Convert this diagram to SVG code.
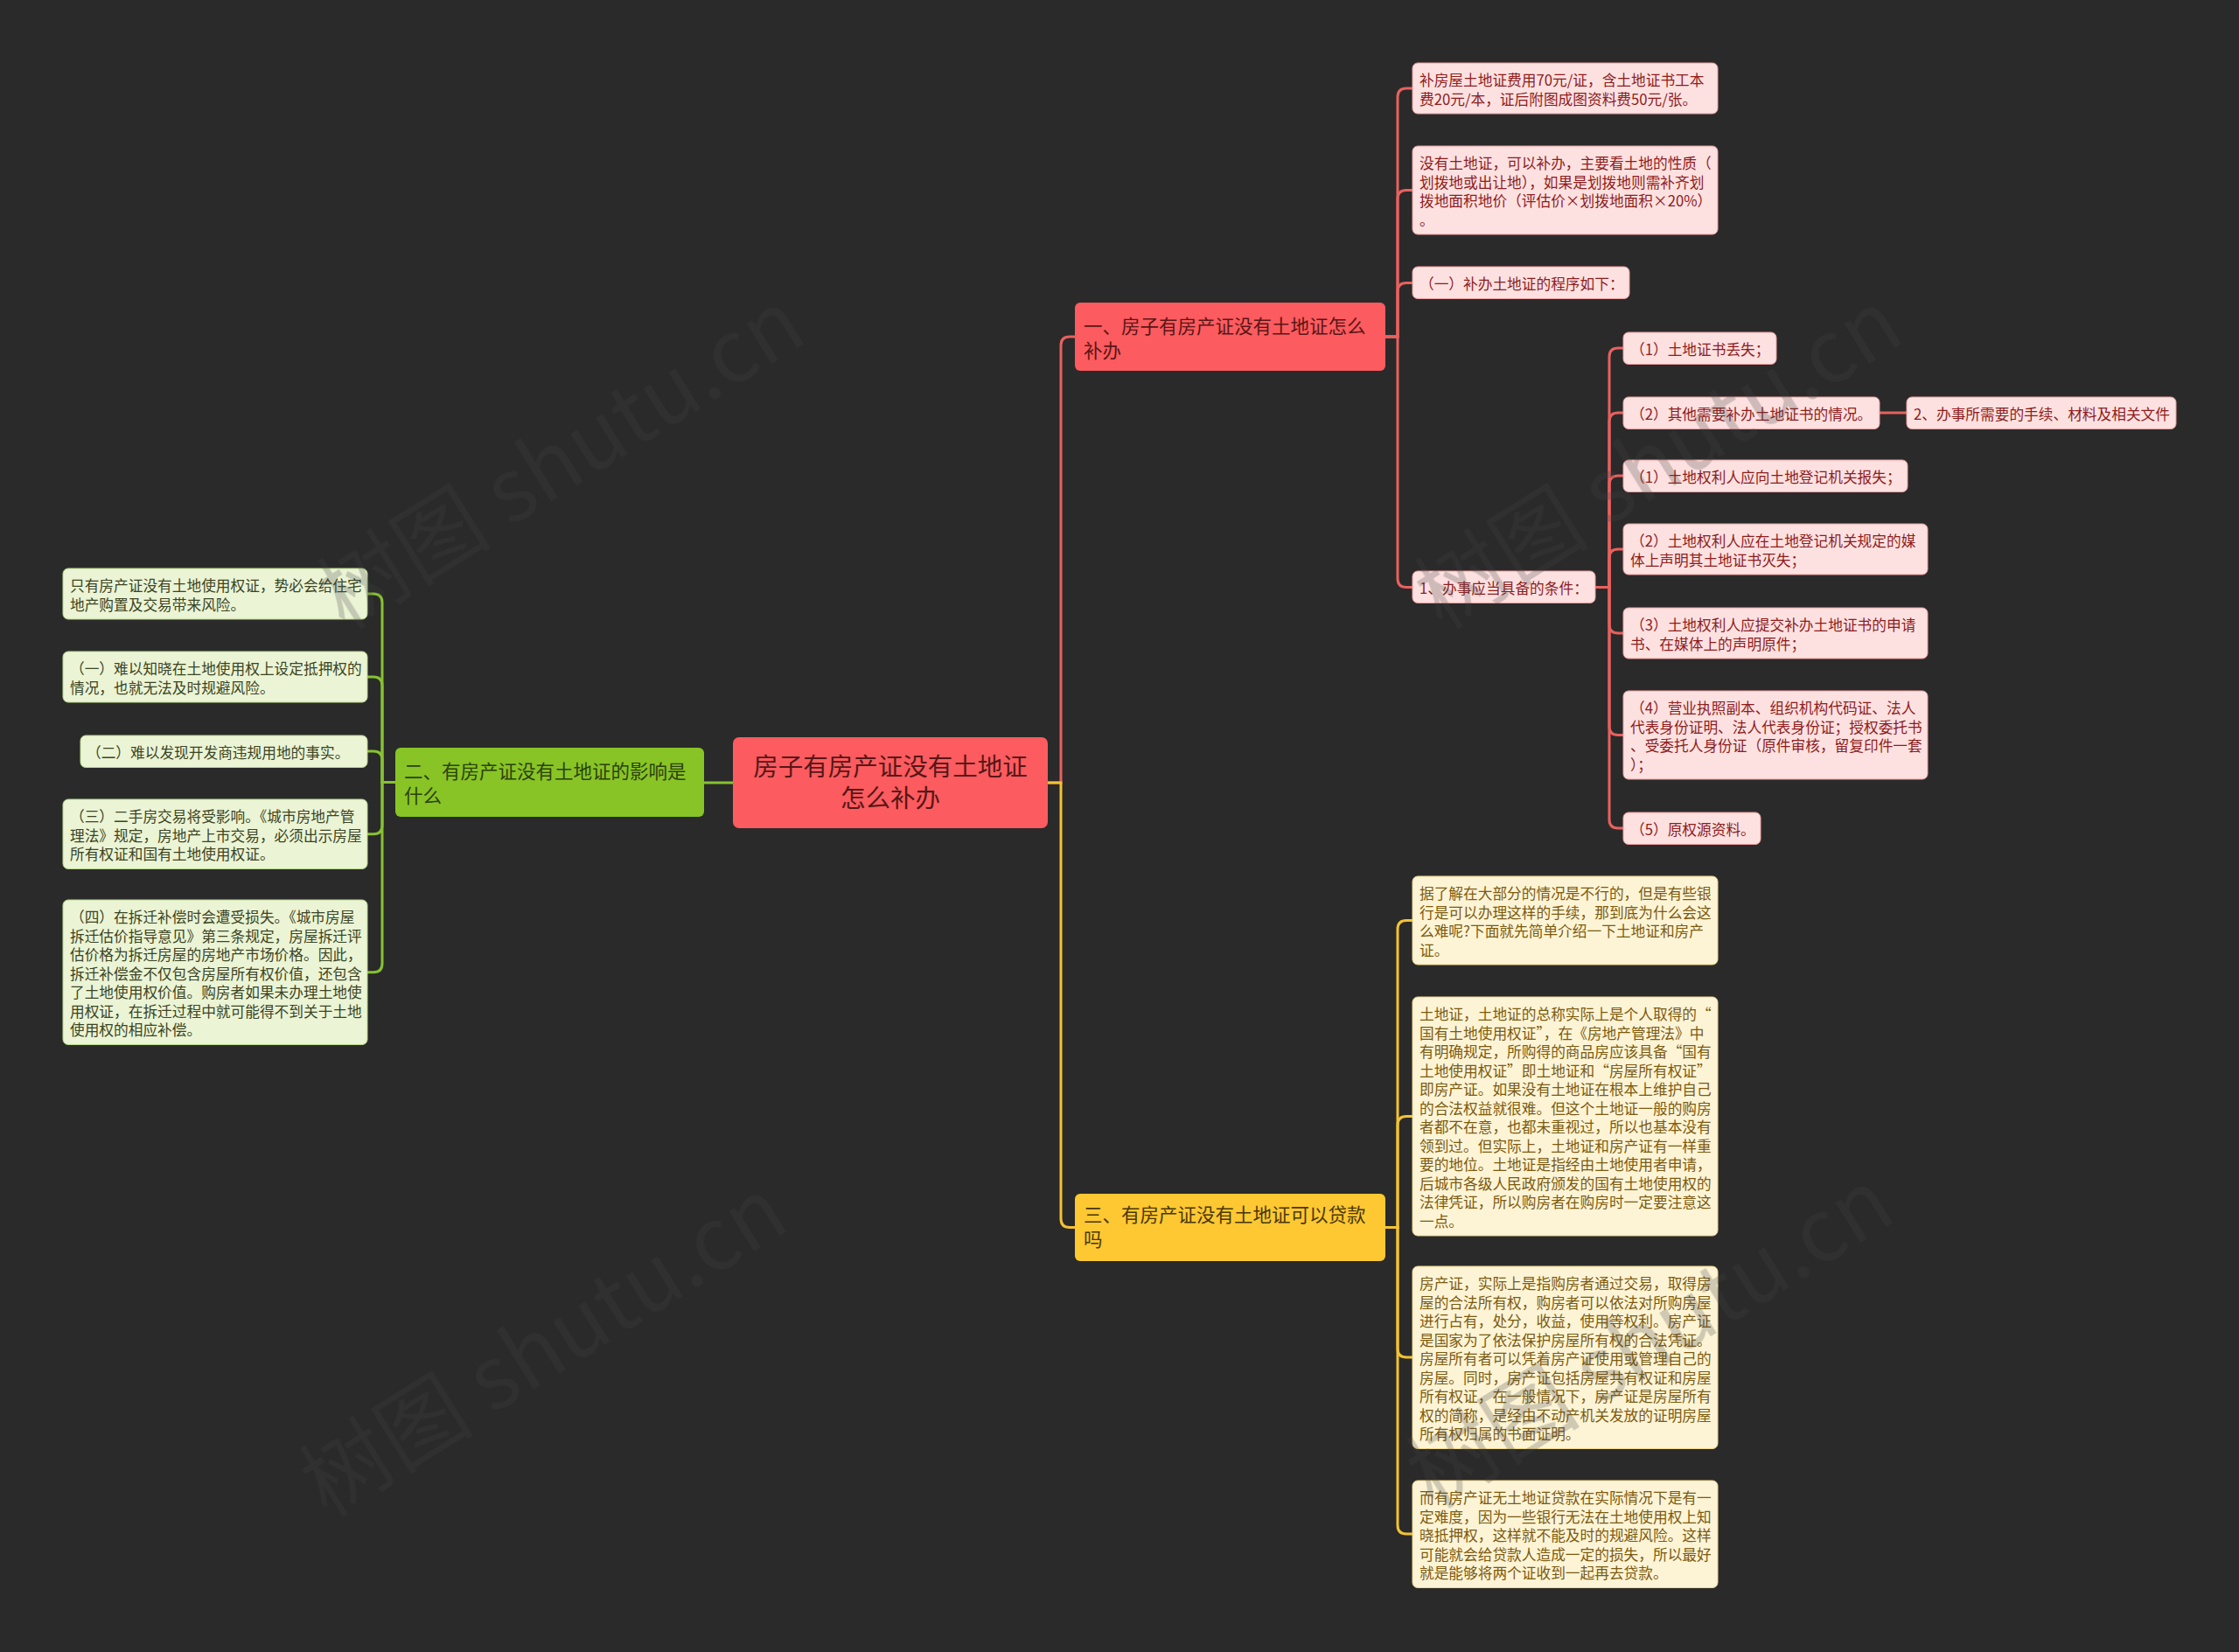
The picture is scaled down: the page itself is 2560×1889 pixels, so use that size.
<svg xmlns="http://www.w3.org/2000/svg" width="2560" height="1889" viewBox="0 0 2560 1889">
<style>
text{font-family:"Noto Sans CJK SC","Noto Sans",sans-serif;}
.conn path{fill:none;stroke-width:3;stroke-linecap:round;}
.cr{stroke:#e8615f;}
.cg{stroke:#86c232;}
.cy{stroke:#f2c234;}
.root rect{fill:#fc5b5f;}
.root text{font-size:28.5px;fill:#561717;text-anchor:middle;}
.br text{font-size:21.5px;}
.bred rect{fill:#fc5b5f;}
.bred text{fill:#5a1616;}
.bgrn rect{fill:#88c425;}
.bgrn text{fill:#2b420c;}
.bylw rect{fill:#fdc832;}
.bylw text{fill:#4a3706;}
.lf text{font-size:16.7px;}
.lr rect{fill:#fde1e1;stroke:#ef9d9d;stroke-width:1;}
.lr text{fill:#8e1c1c;}
.lg rect{fill:#ebf4d5;stroke:#b9d88a;stroke-width:1;}
.lg text{fill:#3b4423;}
.ly rect{fill:#fdf4d6;stroke:#efd58a;stroke-width:1;}
.ly text{fill:#7c5a0e;}
.wm text{font-size:100px;fill:#444444;text-anchor:middle;font-family:"Noto Sans CJK SC","Liberation Sans",sans-serif;}
</style>
<rect width="2560" height="1889" fill="#2a2a2a"/>

<g id="connectors" class="conn">
  <path class="cr" d="M1198 895 H1213 V395 Q1213 385 1223 385 H1229"/>
  <path class="cy" d="M1198 895 H1213 V1393.5 Q1213 1403.5 1223 1403.5 H1229"/>
  <path class="cg" d="M805 895 H838"/>
  <path class="cr" d="M1584 385 H1598 V111 Q1598 101 1608 101 H1615"/>
  <path class="cr" d="M1584 385 H1598 V227.5 Q1598 217.5 1608 217.5 H1615"/>
  <path class="cr" d="M1584 385 H1598 V333.5 Q1598 323.5 1608 323.5 H1615"/>
  <path class="cr" d="M1584 385 H1598 V661.5 Q1598 671.5 1608 671.5 H1615"/>
  <path class="cr" d="M1824 671.5 H1840 V408 Q1840 398 1850 398 H1856"/>
  <path class="cr" d="M1824 671.5 H1840 V482 Q1840 472 1850 472 H1856"/>
  <path class="cr" d="M1824 671.5 H1840 V554 Q1840 544 1850 544 H1856"/>
  <path class="cr" d="M1824 671.5 H1840 V638 Q1840 628 1850 628 H1856"/>
  <path class="cr" d="M1824 671.5 H1840 V714 Q1840 724 1850 724 H1856"/>
  <path class="cr" d="M1824 671.5 H1840 V830.5 Q1840 840.5 1850 840.5 H1856"/>
  <path class="cr" d="M1824 671.5 H1840 V937 Q1840 947 1850 947 H1856"/>
  <path class="cr" d="M2149 472 H2180"/>
  <path class="cg" d="M452 894.5 H437 V689 Q437 679 427 679 H420"/>
  <path class="cg" d="M452 894.5 H437 V784 Q437 774 427 774 H420"/>
  <path class="cg" d="M452 894.5 H437 V869 Q437 859 427 859 H420"/>
  <path class="cg" d="M452 894.5 H437 V943.75 Q437 953.75 427 953.75 H420"/>
  <path class="cg" d="M452 894.5 H437 V1101.75 Q437 1111.75 427 1111.75 H420"/>
  <path class="cy" d="M1584 1403.5 H1598 V1062.5 Q1598 1052.5 1608 1052.5 H1615"/>
  <path class="cy" d="M1584 1403.5 H1598 V1286.5 Q1598 1276.5 1608 1276.5 H1615"/>
  <path class="cy" d="M1584 1403.5 H1598 V1542 Q1598 1552 1608 1552 H1615"/>
  <path class="cy" d="M1584 1403.5 H1598 V1744 Q1598 1754 1608 1754 H1615"/>
</g>

<g id="root" class="root">
  <rect x="838" y="843" width="360" height="104" rx="7"/>
  <text x="1018" y="887">房子有房产证没有土地证</text>
  <text x="1018" y="923">怎么补办</text>
</g>

<g id="b1" class="br bred">
  <rect x="1229" y="346" width="355" height="78" rx="6"/>
  <text x="1239" y="381">一、房子有房产证没有土地证怎么</text>
  <text x="1239" y="409">补办</text>
</g>
<g id="b2" class="br bgrn">
  <rect x="452" y="855" width="353" height="79" rx="6"/>
  <text x="462" y="890">二、有房产证没有土地证的影响是</text>
  <text x="462" y="918">什么</text>
</g>
<g id="b3" class="br bylw">
  <rect x="1229" y="1365" width="355" height="77" rx="6"/>
  <text x="1239" y="1397">三、有房产证没有土地证可以贷款</text>
  <text x="1239" y="1425">吗</text>
</g>

<g id="l1" class="lf lr">
  <rect x="1615" y="72" width="349" height="58" rx="6"/>
  <text x="1623" y="98">补房屋土地证费用70元/证，含土地证书工本<tspan x="1623" dy="21.5">费20元/本，证后附图成图资料费50元/张。</tspan></text>
</g>
<g id="l2" class="lf lr">
  <rect x="1615" y="167" width="349" height="101" rx="6"/>
  <text x="1623" y="193">没有土地证，可以补办，主要看土地的性质（<tspan x="1623" dy="21.5">划拨地或出让地），如果是划拨地则需补齐划</tspan><tspan x="1623" dy="21.5">拨地面积地价（评估价×划拨地面积×20%）</tspan><tspan x="1623" dy="21.5">。</tspan></text>
</g>
<g id="l3" class="lf lr">
  <rect x="1615" y="305" width="248" height="36.5" rx="6"/>
  <text x="1623" y="331">（一）补办土地证的程序如下：</text>
</g>
<g id="l4" class="lf lr">
  <rect x="1615" y="653" width="209" height="36.5" rx="6"/>
  <text x="1623" y="679">1、办事应当具备的条件：</text>
</g>
<g id="s1" class="lf lr">
  <rect x="1856" y="380" width="175" height="36.5" rx="6"/>
  <text x="1864" y="406">（1）土地证书丢失；</text>
</g>
<g id="s2" class="lf lr">
  <rect x="1856" y="454" width="293" height="36.5" rx="6"/>
  <text x="1864" y="480">（2）其他需要补办土地证书的情况。</text>
</g>
<g id="s2c" class="lf lr">
  <rect x="2180" y="454" width="308" height="36.5" rx="6"/>
  <text x="2188" y="480">2、办事所需要的手续、材料及相关文件</text>
</g>
<g id="s3" class="lf lr">
  <rect x="1856" y="526" width="325" height="36.5" rx="6"/>
  <text x="1864" y="552">（1）土地权利人应向土地登记机关报失；</text>
</g>
<g id="s4" class="lf lr">
  <rect x="1856" y="599" width="348" height="58" rx="6"/>
  <text x="1864" y="625">（2）土地权利人应在土地登记机关规定的媒<tspan x="1864" dy="21.5">体上声明其土地证书灭失；</tspan></text>
</g>
<g id="s5" class="lf lr">
  <rect x="1856" y="695" width="348" height="58" rx="6"/>
  <text x="1864" y="721">（3）土地权利人应提交补办土地证书的申请<tspan x="1864" dy="21.5">书、在媒体上的声明原件；</tspan></text>
</g>
<g id="s6" class="lf lr">
  <rect x="1856" y="790" width="348" height="101" rx="6"/>
  <text x="1864" y="816">（4）营业执照副本、组织机构代码证、法人<tspan x="1864" dy="21.5">代表身份证明、法人代表身份证；授权委托书</tspan><tspan x="1864" dy="21.5">、受委托人身份证（原件审核，留复印件一套</tspan><tspan x="1864" dy="21.5">）；</tspan></text>
</g>
<g id="s7" class="lf lr">
  <rect x="1856" y="929" width="157" height="36.5" rx="6"/>
  <text x="1864" y="955">（5）原权源资料。</text>
</g>

<g id="g1" class="lf lg">
  <rect x="72" y="650" width="348" height="58" rx="6"/>
  <text x="80" y="676">只有房产证没有土地使用权证，势必会给住宅<tspan x="80" dy="21.5">地产购置及交易带来风险。</tspan></text>
</g>
<g id="g2" class="lf lg">
  <rect x="72" y="745" width="348" height="58" rx="6"/>
  <text x="80" y="771">（一）难以知晓在土地使用权上设定抵押权的<tspan x="80" dy="21.5">情况，也就无法及时规避风险。</tspan></text>
</g>
<g id="g3" class="lf lg">
  <rect x="92" y="841" width="328" height="36.5" rx="6"/>
  <text x="99" y="867">（二）难以发现开发商违规用地的事实。</text>
</g>
<g id="g4" class="lf lg">
  <rect x="72" y="914" width="348" height="79.5" rx="6"/>
  <text x="80" y="940">（三）二手房交易将受影响。《城市房地产管<tspan x="80" dy="21.5">理法》规定，房地产上市交易，必须出示房屋</tspan><tspan x="80" dy="21.5">所有权证和国有土地使用权证。</tspan></text>
</g>
<g id="g5" class="lf lg">
  <rect x="72" y="1029" width="348" height="165.5" rx="6"/>
  <text x="80" y="1055">（四）在拆迁补偿时会遭受损失。《城市房屋<tspan x="80" dy="21.5">拆迁估价指导意见》第三条规定，房屋拆迁评</tspan><tspan x="80" dy="21.5">估价格为拆迁房屋的房地产市场价格。因此，</tspan><tspan x="80" dy="21.5">拆迁补偿金不仅包含房屋所有权价值，还包含</tspan><tspan x="80" dy="21.5">了土地使用权价值。购房者如果未办理土地使</tspan><tspan x="80" dy="21.5">用权证，在拆迁过程中就可能得不到关于土地</tspan><tspan x="80" dy="21.5">使用权的相应补偿。</tspan></text>
</g>

<g id="y1" class="lf ly">
  <rect x="1615" y="1002" width="349" height="101" rx="6"/>
  <text x="1623" y="1028">据了解在大部分的情况是不行的，但是有些银<tspan x="1623" dy="21.5">行是可以办理这样的手续，那到底为什么会这</tspan><tspan x="1623" dy="21.5">么难呢?下面就先简单介绍一下土地证和房产</tspan><tspan x="1623" dy="21.5">证。</tspan></text>
</g>
<g id="y2" class="lf ly">
  <rect x="1615" y="1140" width="349" height="273" rx="6"/>
  <text x="1623" y="1166">土地证，土地证的总称实际上是个人取得的“<tspan x="1623" dy="21.5">国有土地使用权证”，在《房地产管理法》中</tspan><tspan x="1623" dy="21.5">有明确规定，所购得的商品房应该具备“国有</tspan><tspan x="1623" dy="21.5">土地使用权证”即土地证和“房屋所有权证”</tspan><tspan x="1623" dy="21.5">即房产证。如果没有土地证在根本上维护自己</tspan><tspan x="1623" dy="21.5">的合法权益就很难。但这个土地证一般的购房</tspan><tspan x="1623" dy="21.5">者都不在意，也都未重视过，所以也基本没有</tspan><tspan x="1623" dy="21.5">领到过。但实际上，土地证和房产证有一样重</tspan><tspan x="1623" dy="21.5">要的地位。土地证是指经由土地使用者申请，</tspan><tspan x="1623" dy="21.5">后城市各级人民政府颁发的国有土地使用权的</tspan><tspan x="1623" dy="21.5">法律凭证，所以购房者在购房时一定要注意这</tspan><tspan x="1623" dy="21.5">一点。</tspan></text>
</g>
<g id="y3" class="lf ly">
  <rect x="1615" y="1448" width="349" height="208.5" rx="6"/>
  <text x="1623" y="1474">房产证，实际上是指购房者通过交易，取得房<tspan x="1623" dy="21.5">屋的合法所有权，购房者可以依法对所购房屋</tspan><tspan x="1623" dy="21.5">进行占有，处分，收益，使用等权利。房产证</tspan><tspan x="1623" dy="21.5">是国家为了依法保护房屋所有权的合法凭证。</tspan><tspan x="1623" dy="21.5">房屋所有者可以凭着房产证使用或管理自己的</tspan><tspan x="1623" dy="21.5">房屋。同时，房产证包括房屋共有权证和房屋</tspan><tspan x="1623" dy="21.5">所有权证，在一般情况下，房产证是房屋所有</tspan><tspan x="1623" dy="21.5">权的简称，是经由不动产机关发放的证明房屋</tspan><tspan x="1623" dy="21.5">所有权归属的书面证明。</tspan></text>
</g>
<g id="y4" class="lf ly">
  <rect x="1615" y="1693" width="349" height="122.5" rx="6"/>
  <text x="1623" y="1719">而有房产证无土地证贷款在实际情况下是有一<tspan x="1623" dy="21.5">定难度，因为一些银行无法在土地使用权上知</tspan><tspan x="1623" dy="21.5">晓抵押权，这样就不能及时的规避风险。这样</tspan><tspan x="1623" dy="21.5">可能就会给贷款人造成一定的损失，所以最好</tspan><tspan x="1623" dy="21.5">就是能够将两个证收到一起再去贷款。</tspan></text>
</g>

<g id="watermark" class="wm" opacity="0.25">
  <text transform="translate(660 555) rotate(-32)">树图 shutu.cn</text>
  <text transform="translate(1915 555) rotate(-32)">树图 shutu.cn</text>
  <text transform="translate(640 1570) rotate(-32)">树图 shutu.cn</text>
  <text transform="translate(1905 1560) rotate(-32)">树图 shutu.cn</text>
</g>
</svg>
